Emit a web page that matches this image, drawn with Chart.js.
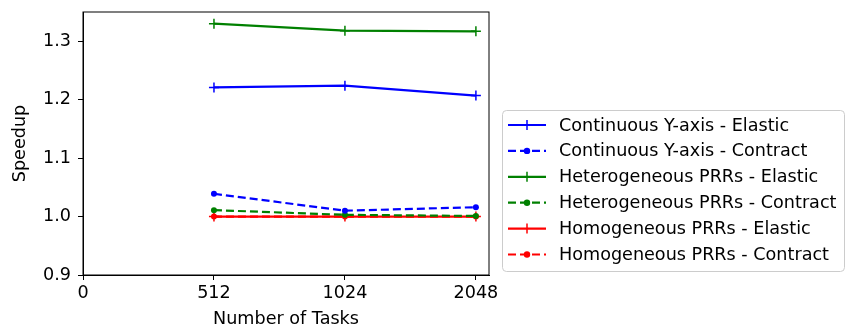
<!DOCTYPE html>
<html>
<head>
<meta charset="utf-8">
<script src="https://cdn.jsdelivr.net/npm/chart.js@4/dist/chart.umd.min.js"></script>
<style>
  html, body { margin: 0; padding: 0; background: #fff; }
  #grafico { display: block; }
</style>
</head>
<body>
<canvas id="grafico" width="846" height="326"></canvas>
<script>
// datos
const tickLabels = [0, 512, 1024, 2048];
const tasks = [512, 1024, 2048];
const yTicks = [0.9, 1.0, 1.1, 1.2, 1.3];

const contYElastic = [1.221, 1.224, 1.207];
const contYContract = [1.039, 1.010, 1.016];
const heteroElastic = [1.330, 1.318, 1.317];
const heteroContract = [1.011, 1.003, 1.001];
const homoElastic = [1.000, 1.000, 1.000];
const homoContract = [1.000, 1.000, 1.000];

const fuente = "'DejaVu Sans', sans-serif";
const tam = 17.6;

function serie(label, valores, color, tipo) {
    const elastic = tipo === "elastic";
    return {
        label: label,
        data: valores.map((v, i) => ({ x: tickLabels.indexOf(tasks[i]), y: v })),
        borderColor: color,
        backgroundColor: color,
        borderWidth: 2.2,
        borderDash: elastic ? [] : [8, 4],
        pointStyle: elastic ? "cross" : "circle",
        pointRadius: elastic ? 5 : 3,
        pointBorderWidth: elastic ? 1.5 : 0,
        pointHoverRadius: elastic ? 5 : 3,
        tension: 0,
        fill: false
    };
}

const datasets = [
    serie("Continuous Y-axis - Elastic", contYElastic, "#0000ff", "elastic"),
    serie("Continuous Y-axis - Contract", contYContract, "#0000ff", "contract"),
    serie("Heterogeneous PRRs - Elastic", heteroElastic, "#008000", "elastic"),
    serie("Heterogeneous PRRs - Contract", heteroContract, "#008000", "contract"),
    serie("Homogeneous PRRs - Elastic", homoElastic, "#ff0000", "elastic"),
    serie("Homogeneous PRRs - Contract", homoContract, "#ff0000", "contract")
];

// marco y leyenda dibujados a mano
const marcoLeyenda = {
    id: "marcoLeyenda",
    afterDraw(chart) {
        const c = chart.ctx;
        const a = chart.chartArea;
        c.save();
        c.strokeStyle = "#000";
        c.lineWidth = 1;
        c.strokeRect(a.left, a.top, a.right - a.left, a.bottom - a.top);

        // caja de leyenda
        const bx = 502.5, by = 110.5, bw = 342, bh = 161, r = 4;
        c.beginPath();
        c.moveTo(bx + r, by);
        c.arcTo(bx + bw, by, bx + bw, by + bh, r);
        c.arcTo(bx + bw, by + bh, bx, by + bh, r);
        c.arcTo(bx, by + bh, bx, by, r);
        c.arcTo(bx, by, bx + bw, by, r);
        c.closePath();
        c.fillStyle = "rgba(255,255,255,0.8)";
        c.fill();
        c.strokeStyle = "#cccccc";
        c.stroke();

        chart.data.datasets.forEach((ds, i) => {
            const y = 125 + i * 25.9;
            c.strokeStyle = ds.borderColor;
            c.lineWidth = 2.2;
            c.setLineDash(ds.borderDash);
            c.beginPath();
            c.moveTo(508, y);
            c.lineTo(546, y);
            c.stroke();
            c.setLineDash([]);
            if (ds.pointStyle === "cross") {
                c.lineWidth = 1.5;
                c.beginPath();
                c.moveTo(527, y - 5);
                c.lineTo(527, y + 5);
                c.stroke();
            } else {
                c.fillStyle = ds.borderColor;
                c.beginPath();
                c.arc(527, y, 3.2, 0, Math.PI * 2);
                c.fill();
            }
            c.fillStyle = "#000";
            c.font = tam + "px " + fuente;
            c.textBaseline = "middle";
            c.textAlign = "left";
            c.fillText(ds.label, 559, y + 1);
        });
        c.restore();
    }
};

const ctx = document.getElementById("grafico").getContext("2d");

new Chart(ctx, {
    type: "line",
    data: { datasets: datasets },
    options: {
        responsive: false,
        animation: false,
        devicePixelRatio: 1,
        layout: { padding: { left: 0, top: 12, right: 357, bottom: 0 } },
        plugins: {
            legend: { display: false },
            tooltip: { enabled: false }
        },
        scales: {
            x: {
                type: "linear",
                min: 0,
                max: 3.1,
                afterBuildTicks: (s) => { s.ticks = tickLabels.map((t, i) => ({ value: i })); },
                afterFit: (s) => { s.height = 51; },
                ticks: {
                    color: "#000",
                    font: { family: fuente, size: tam },
                    padding: 3,
                    maxRotation: 0,
                    callback: (v) => String(tickLabels[v])
                },
                grid: { drawOnChartArea: false, drawTicks: true, tickLength: 5, color: "#000" },
                border: { display: true, color: "#000", width: 1 },
                title: {
                    display: true,
                    text: "Number of Tasks",
                    color: "#000",
                    font: { family: fuente, size: tam },
                    padding: { top: 5, bottom: -4 }
                }
            },
            y: {
                type: "linear",
                min: 0.9,
                max: 1.35,
                afterBuildTicks: (s) => { s.ticks = yTicks.map((v) => ({ value: v })); },
                afterFit: (s) => { s.width = 83; s.paddingTop = 0; s.paddingBottom = 0; },
                ticks: {
                    color: "#000",
                    font: { family: fuente, size: tam },
                    padding: 7,
                    callback: (v) => v.toFixed(1)
                },
                grid: { drawOnChartArea: false, drawTicks: true, tickLength: 5, color: "#000" },
                border: { display: true, color: "#000", width: 1 },
                title: {
                    display: true,
                    text: "Speedup",
                    color: "#000",
                    font: { family: fuente, size: tam },
                    padding: { top: 10, bottom: 0 }
                }
            }
        }
    },
    plugins: [marcoLeyenda]
});
</script>
</body>
</html>
